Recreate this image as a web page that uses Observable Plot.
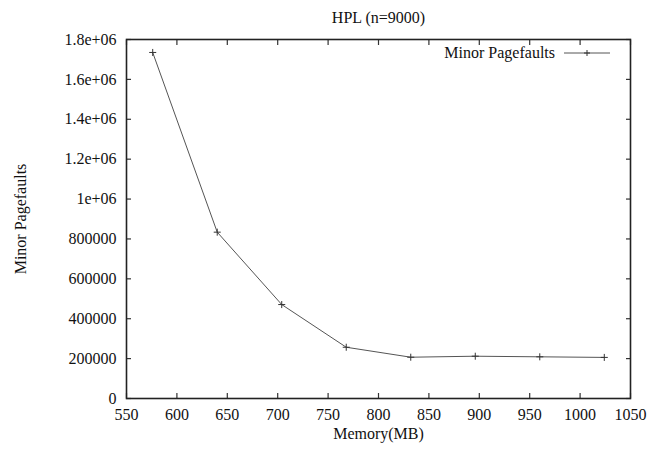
<!DOCTYPE html>
<html>
<head>
<meta charset="utf-8">
<script src="https://cdn.jsdelivr.net/npm/d3@7"></script>
<script src="https://cdn.jsdelivr.net/npm/@observablehq/plot@0.6"></script>
<style>
  html, body { margin: 0; padding: 0; background: #fff; }
  #wrap { position: relative; width: 658px; height: 450px; font-family: "Liberation Serif", "DejaVu Serif", serif; }
  #wrap svg, #wrap svg text { font-family: "Liberation Serif", "DejaVu Serif", serif !important; }
  #legend { position: absolute; right: 46px; top: 44px; display: flex; align-items: center; font-size: 16px; color: #111; }
</style>
</head>
<body>
<div id="wrap"></div>
<script>
const title = "HPL (n=9000)";
const seriesName = "Minor Pagefaults";
const xLabel = "Memory(MB)";
const yLabel = "Minor Pagefaults";
const memory = [576, 640, 704, 768, 832, 896, 960, 1024];
const pagefaults = [1735000, 834000, 471000, 257000, 207000, 212000, 209000, 206000];
const xTicks = [550, 600, 650, 700, 750, 800, 850, 900, 950, 1000, 1050];
const yTicks = [0, 200000, 400000, 600000, 800000, 1000000, 1200000, 1400000, 1600000, 1800000];
const yTickLabels = ["0", "200000", "400000", "600000", "800000", "1e+06", "1.2e+06", "1.4e+06", "1.6e+06", "1.8e+06"];

const data = memory.map((m, i) => ({memory: m, faults: pagefaults[i]}));
const yFmt = v => yTickLabels[yTicks.indexOf(v)] ?? "";
const blank = () => "";

const ink = "#333";
const chart = Plot.plot({
  width: 658,
  height: 450,
  marginLeft: 126,
  marginRight: 28,
  marginTop: 39,
  marginBottom: 52,
  style: "font-family: 'Liberation Serif', serif; font-size: 16px; color: #111; background: #fff;",
  x: {domain: [550, 1050]},
  y: {domain: [0, 1800000]},
  marks: [
    // tick labels and axis titles
    Plot.axisX({anchor: "bottom", ticks: xTicks, tickSize: 0, tickPadding: 10, tickFormat: d => String(d),
      label: xLabel, labelAnchor: "center", labelArrow: "none", labelOffset: 40, fontSize: 16}),
    Plot.axisY({anchor: "left", ticks: yTicks, tickSize: 0, tickPadding: 10, tickFormat: yFmt,
      label: yLabel, labelAnchor: "center", labelArrow: "none", labelOffset: 112, fontSize: 16}),
    // inward ticks on all four sides
    Plot.axisX({anchor: "bottom", ticks: xTicks, tickSize: -5, tickFormat: blank, label: null, stroke: ink, strokeWidth: 1.2}),
    Plot.axisX({anchor: "top", ticks: xTicks, tickSize: -5, tickFormat: blank, label: null, stroke: ink, strokeWidth: 1.2}),
    Plot.axisY({anchor: "left", ticks: yTicks, tickSize: -5, tickFormat: blank, label: null, stroke: ink, strokeWidth: 1.2}),
    Plot.axisY({anchor: "right", ticks: yTicks, tickSize: -5, tickFormat: blank, label: null, stroke: ink, strokeWidth: 1.2}),
    Plot.frame({stroke: "#222", strokeWidth: 1.6}),
    Plot.line(data, {x: "memory", y: "faults", stroke: "#555", strokeWidth: 1}),
    Plot.dot(data, {x: "memory", y: "faults", symbol: "plus", r: 2.4, stroke: "#333", strokeWidth: 1}),
    Plot.text([title], {text: d => d, frameAnchor: "top", dy: -28, fontSize: 16, fill: "#111"})
  ]
});
const wrap = document.getElementById("wrap");
wrap.appendChild(chart);

const legend = document.createElement("div");
legend.id = "legend";
legend.innerHTML = `<span>${seriesName}</span>
<svg width="48" height="12" style="margin-left:9px">
  <line x1="0" y1="6" x2="46" y2="6" stroke="#555" stroke-width="1"/>
  <line x1="23" y1="3" x2="23" y2="9" stroke="#333" stroke-width="1"/>
  <line x1="20" y1="6" x2="26" y2="6" stroke="#333" stroke-width="1"/>
</svg>`;
wrap.appendChild(legend);
</script>
</body>
</html>
